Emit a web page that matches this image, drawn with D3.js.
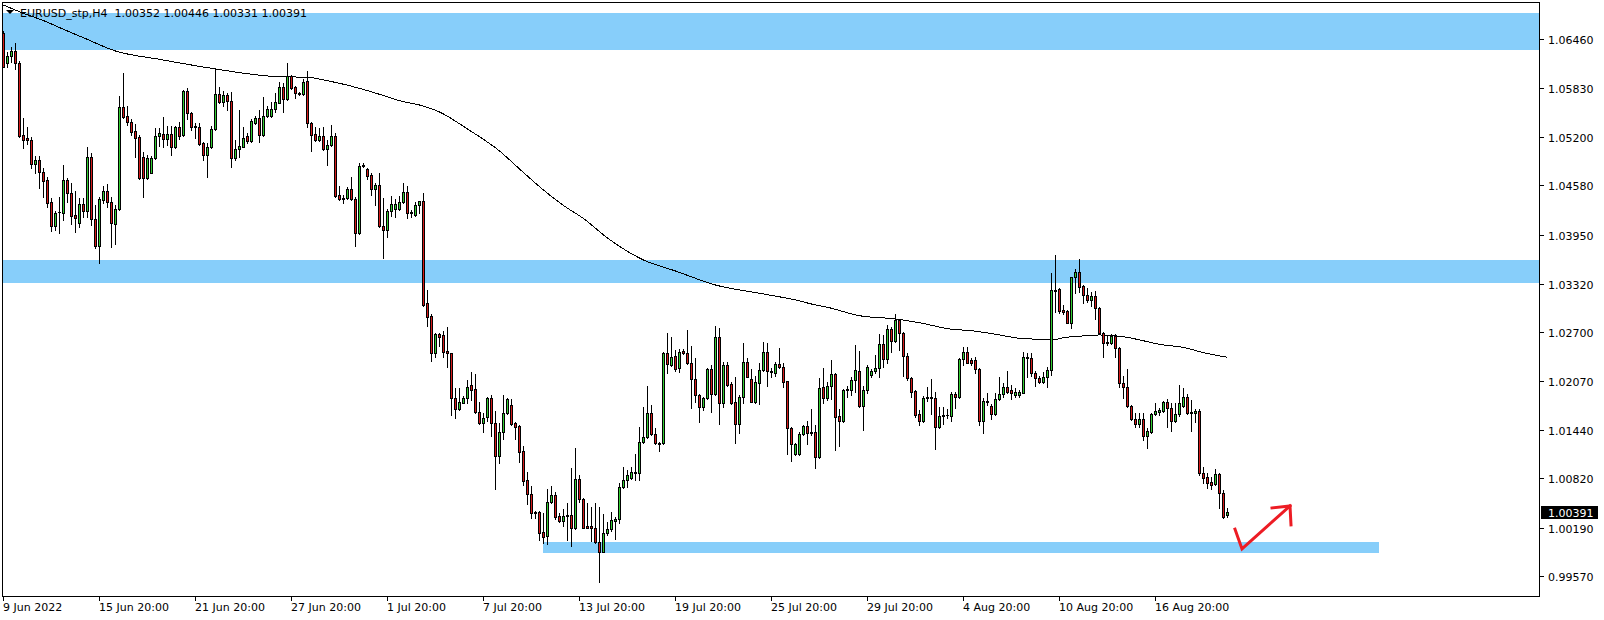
<!DOCTYPE html>
<html><head><meta charset="utf-8">
<script src="https://cdn.jsdelivr.net/npm/d3@7"></script>
<style>html,body{margin:0;padding:0;background:#fff;overflow:hidden}svg{display:block}</style>
</head><body>
<svg id="c" width="1604" height="620"></svg>
<script>
const symbolTitle = "EURUSD_stp,H4  1.00352 1.00446 1.00331 1.00391";
const lastPrice = 1.00391;
const openP = [
1.06537,1.06152,1.06241,1.06306,1.06155,1.05228,1.05193,1.05164,1.04856,1.04907,
1.04753,1.04650,1.04368,1.04064,1.04240,1.04231,1.04650,1.04480,1.04201,1.04095,
1.04342,1.04257,1.04942,1.04146,1.03804,1.04394,1.04513,1.04372,1.04086,1.04275,
1.05591,1.05472,1.05398,1.05279,1.05198,1.04942,1.04672,1.04744,1.04929,1.05219,
1.05241,1.05173,1.05241,1.05070,1.05327,1.05228,1.05792,1.05514,1.05343,1.05327,
1.05121,1.04971,1.05070,1.05301,1.05754,1.05647,1.05741,1.05668,1.04929,1.05044,
1.05078,1.05215,1.05155,1.05386,1.05442,1.05228,1.05472,1.05472,1.05558,1.05642,
1.05840,1.05686,1.05985,1.05848,1.05763,1.05754,1.05921,1.05378,1.05237,1.05164,
1.05215,1.05044,1.05100,1.05215,1.04458,1.04416,1.04416,1.04531,1.04403,1.03967,
1.04843,1.04788,1.04715,1.04531,1.04586,1.04060,1.04009,1.04257,1.04275,1.04275,
1.04372,1.04500,1.04236,1.04201,1.04330,1.04381,1.03068,1.02905,1.02435,1.02674,
1.02662,1.02456,1.02427,1.01857,1.01708,1.01793,1.01849,1.02020,1.01965,1.01678,
1.01529,1.01613,1.01849,1.01529,1.01109,1.01413,1.01657,1.01763,1.01529,1.01494,
1.01173,1.00801,1.00618,1.00387,1.00394,1.00130,1.00087,1.00515,1.00609,1.00339,
1.00279,1.00339,1.00352,1.00181,1.00810,1.00553,1.00211,1.00211,1.00181,1.00002,
0.99881,1.00117,1.00169,1.00279,1.00297,1.00707,1.00801,1.00823,1.00895,1.00895,
1.01285,1.01349,1.01657,1.01391,1.01272,1.01272,1.02427,1.02277,1.02392,1.02234,
1.02460,1.02427,1.02299,1.02093,1.01892,1.01742,1.01849,1.02225,1.01901,1.02632,
1.01793,1.02277,1.02029,1.01806,1.01516,1.01862,1.02311,1.02093,1.01806,1.02050,
1.02213,1.02440,1.02200,1.02170,1.02290,1.02247,1.02071,1.01465,1.01131,1.01131,
1.01388,1.01494,1.01413,1.01413,1.01092,1.01998,1.01849,1.02007,1.02161,1.01622,
1.01562,1.01956,1.01956,1.02084,1.02204,1.01751,1.01956,1.02148,1.02204,1.02234,
1.02546,1.02350,1.02735,1.02589,1.02854,1.02691,1.02396,1.02106,1.01943,1.01648,
1.01562,1.01849,1.01862,1.01849,1.01485,1.01622,1.01635,1.01622,1.01905,1.01862,
1.02354,1.02440,1.02341,1.02341,1.02225,1.01562,1.01815,1.01754,1.01644,1.01840,
1.01905,1.01991,1.01956,1.01892,1.01892,1.01921,1.02375,1.02363,1.02178,1.02106,
1.02062,1.02119,1.02213,1.03239,1.03248,1.02982,1.02970,1.02819,1.03402,1.03466,
1.03290,1.03175,1.03111,1.03162,1.03004,1.02691,1.02572,1.02555,1.02653,1.02491,
1.02050,1.01991,1.01751,1.01580,1.01520,1.01580,1.01370,1.01413,1.01648,1.01678,
1.01690,1.01798,1.01721,1.01562,1.01648,1.01754,1.01870,1.01657,1.01657,1.01686,
1.00887,1.00844,1.00779,1.00746,1.00874,1.00638,1.00352];
const highP = [
1.06562,1.06293,1.06357,1.06408,1.06181,1.05446,1.05330,1.05206,1.04958,1.04958,
1.04804,1.04693,1.04419,1.04257,1.04436,1.04843,1.04680,1.04608,1.04513,1.04416,
1.04416,1.05078,1.04993,1.04330,1.04436,1.04573,1.04599,1.04436,1.04330,1.05728,
1.06027,1.05600,1.05429,1.05369,1.05228,1.05014,1.04971,1.04958,1.05314,1.05314,
1.05455,1.05343,1.05343,1.05343,1.05398,1.05805,1.05827,1.05527,1.05386,1.05386,
1.05142,1.05129,1.05343,1.06071,1.05840,1.05796,1.05763,1.05783,1.05164,1.05549,
1.05334,1.05250,1.05429,1.05472,1.05549,1.05719,1.05600,1.05655,1.05763,1.05912,
1.05891,1.06148,1.05998,1.05857,1.05783,1.05943,1.06053,1.05398,1.05334,1.05314,
1.05334,1.05164,1.05356,1.05257,1.04573,1.04458,1.04564,1.04685,1.04436,1.04872,
1.04872,1.04801,1.04736,1.04616,1.04736,1.04416,1.04275,1.04445,1.04403,1.04445,
1.04616,1.04573,1.04265,1.04372,1.04381,1.04480,1.03239,1.02931,1.02691,1.02691,
1.02717,1.02768,1.02435,1.01978,1.01978,1.01879,1.02084,1.02191,1.02161,1.01806,
1.01665,1.01862,1.01892,1.01690,1.01536,1.01892,1.01849,1.01837,1.01549,1.01507,
1.01237,1.00908,1.00724,1.00407,1.00407,1.00374,1.00682,1.00724,1.00651,1.00374,
1.00425,1.00502,1.00951,1.01208,1.00865,1.00566,1.00502,1.00459,1.00502,1.00451,
1.00365,1.00266,1.00394,1.00330,1.00767,1.00972,1.00929,1.00972,1.01135,1.01485,
1.01742,1.02007,1.01763,1.01465,1.01293,1.02447,1.02683,1.02632,1.02469,1.02478,
1.02478,1.02726,1.02520,1.02363,1.01905,1.01870,1.02234,1.02277,1.02777,1.02748,
1.02319,1.02319,1.02062,1.02119,1.01892,1.02555,1.02363,1.02222,1.02136,1.02306,
1.02568,1.02555,1.02234,1.02319,1.02491,1.02299,1.02075,1.01485,1.01272,1.01421,
1.01507,1.01562,1.01712,1.01507,1.02106,1.02234,1.02062,1.02341,1.02170,1.01708,
1.01965,1.02007,1.02127,1.02533,1.02460,1.02007,1.02277,1.02222,1.02405,1.02674,
1.02662,1.02790,1.02768,1.02931,1.02863,1.02704,1.02427,1.02127,1.01956,1.01699,
1.01879,1.01994,1.02093,1.01934,1.01738,1.01742,1.01712,1.01934,1.01934,1.02363,
1.02512,1.02512,1.02363,1.02375,1.02234,1.01849,1.01914,1.01776,1.01914,1.02127,
1.02042,1.02204,1.02020,1.01978,1.01956,1.02447,1.02434,1.02434,1.02204,1.02136,
1.02191,1.02255,1.03461,1.03688,1.03261,1.03047,1.02982,1.03410,1.03505,1.03633,
1.03303,1.03261,1.03217,1.03230,1.03017,1.02704,1.02662,1.02671,1.02671,1.02504,
1.02136,1.02222,1.01763,1.01665,1.01657,1.01657,1.01465,1.01665,1.01793,1.01721,
1.01819,1.01841,1.01793,1.01785,1.02020,1.01978,1.01905,1.01828,1.01708,1.01708,
1.00972,1.00887,1.00836,1.00938,1.00891,1.00673,1.00446];
const lowP = [
1.06100,1.06100,1.06164,1.06075,1.05206,1.05061,1.05112,1.04804,1.04744,1.04552,
1.04436,1.04304,1.03996,1.04009,1.03967,1.04137,1.04372,1.04086,1.03987,1.04051,
1.04180,1.04180,1.04073,1.03774,1.03582,1.04359,1.04308,1.03795,1.03829,1.04265,
1.05442,1.05356,1.05228,1.04942,1.04659,1.04436,1.04659,1.04736,1.04916,1.05087,
1.05070,1.05100,1.04971,1.05057,1.05173,1.05215,1.05429,1.05292,1.05185,1.05100,
1.04907,1.04693,1.05057,1.05292,1.05635,1.05600,1.05549,1.04821,1.04907,1.04942,
1.05070,1.05121,1.05142,1.05369,1.05142,1.05215,1.05463,1.05463,1.05527,1.05635,
1.05527,1.05677,1.05814,1.05699,1.05741,1.05741,1.05327,1.05026,1.05155,1.05155,
1.05035,1.04843,1.05087,1.04436,1.04394,1.04359,1.04403,1.04394,1.03804,1.03958,
1.04813,1.04659,1.04458,1.04330,1.04051,1.03646,1.03923,1.04189,1.04180,1.04265,
1.04359,1.04159,1.04180,1.04192,1.04223,1.03034,1.02781,1.02332,1.02383,1.02520,
1.02375,1.02247,1.01635,1.01593,1.01699,1.01785,1.01785,1.01828,1.01665,1.01520,
1.01421,1.01562,1.01366,1.00682,1.01023,1.01323,1.01648,1.01507,1.01323,1.01036,
1.00737,1.00493,1.00310,1.00310,1.00031,0.99997,0.99976,1.00502,1.00297,1.00266,
1.00211,1.00031,0.99958,1.00169,1.00523,1.00181,1.00181,1.00018,0.99989,0.99496,
0.99873,1.00095,1.00151,1.00040,1.00253,1.00695,1.00707,1.00810,1.00801,1.00801,
1.01272,1.01336,1.01379,1.01263,1.01177,1.01263,1.02178,1.02264,1.02204,1.02191,
1.02418,1.02290,1.01721,1.01806,1.01542,1.01699,1.01837,1.01678,1.01892,1.01516,
1.01734,1.02007,1.01776,1.01280,1.01408,1.01785,1.02119,1.01798,1.01793,1.01776,
1.02204,1.02007,1.02119,1.02136,1.02234,1.01998,1.01135,1.01049,1.01122,1.01122,
1.01379,1.01263,1.01379,1.00951,1.01080,1.01785,1.01828,1.01837,1.01186,1.01237,
1.01549,1.01870,1.01892,1.01934,1.01742,1.01443,1.01921,1.02119,1.02178,1.02119,
1.02255,1.02306,1.02447,1.02576,1.02469,1.02136,1.02084,1.01866,1.01613,1.01507,
1.01549,1.01815,1.01648,1.01199,1.01465,1.01520,1.01593,1.01562,1.01721,1.01857,
1.02277,1.02299,1.02277,1.02178,1.01507,1.01400,1.01763,1.01580,1.01635,1.01828,
1.01870,1.01914,1.01837,1.01870,1.01866,1.01914,1.02127,1.02136,1.02007,1.02050,
1.02050,1.01998,1.02148,1.02961,1.02940,1.02931,1.02812,1.02748,1.03204,1.03217,
1.03076,1.03089,1.03034,1.02863,1.02674,1.02375,1.02533,1.02546,1.02383,1.01998,
1.01849,1.01742,1.01571,1.01477,1.01477,1.01314,1.01208,1.01400,1.01635,1.01635,
1.01678,1.01477,1.01434,1.01549,1.01622,1.01742,1.01648,1.01434,1.01549,1.00865,
1.00767,1.00695,1.00682,1.00737,1.00442,1.00310,1.00331];
const closeP = [
1.06104,1.06241,1.06306,1.06152,1.05215,1.05164,1.05164,1.04856,1.04907,1.04753,
1.04641,1.04359,1.04064,1.04231,1.04245,1.04650,1.04480,1.04192,1.04167,1.04342,
1.04257,1.04942,1.04146,1.03804,1.04403,1.04513,1.04372,1.04095,1.04275,1.05591,
1.05463,1.05398,1.05270,1.05193,1.04672,1.04672,1.04929,1.04929,1.05219,1.05250,
1.05173,1.05241,1.05070,1.05327,1.05215,1.05792,1.05514,1.05334,1.05327,1.05112,
1.04971,1.05078,1.05301,1.05754,1.05655,1.05741,1.05668,1.04929,1.05044,1.05087,
1.05185,1.05155,1.05407,1.05442,1.05228,1.05472,1.05558,1.05558,1.05655,1.05840,
1.05686,1.05985,1.05827,1.05763,1.05754,1.05912,1.05378,1.05228,1.05164,1.05215,
1.05044,1.05100,1.05215,1.04445,1.04403,1.04403,1.04531,1.04403,1.03967,1.04830,
1.04830,1.04702,1.04531,1.04586,1.04060,1.04009,1.04257,1.04342,1.04342,1.04372,
1.04500,1.04223,1.04223,1.04330,1.04381,1.03047,1.02896,1.02435,1.02674,1.02640,
1.02447,1.02427,1.01857,1.01712,1.01798,1.01849,1.01998,1.01956,1.01678,1.01529,
1.01593,1.01849,1.01529,1.01109,1.01413,1.01657,1.01837,1.01520,1.01485,1.01164,
1.00792,1.00618,1.00374,1.00374,1.00125,1.00074,1.00515,1.00609,1.00330,1.00279,
1.00339,1.00352,1.00181,1.00810,1.00553,1.00189,1.00189,1.00181,1.00002,0.99881,
1.00117,1.00169,1.00288,1.00297,1.00707,1.00801,1.00865,1.00908,1.00908,1.01285,
1.01357,1.01657,1.01391,1.01272,1.01259,1.02427,1.02286,1.02383,1.02222,1.02447,
1.02427,1.02299,1.02093,1.01892,1.01742,1.01849,1.02225,1.01901,1.02632,1.01793,
1.02277,1.02020,1.01793,1.01516,1.01862,1.02311,1.02127,1.01806,1.02062,1.02213,
1.02440,1.02200,1.02183,1.02290,1.02247,1.02062,1.01465,1.01259,1.01259,1.01388,
1.01494,1.01400,1.01400,1.01092,1.01978,1.01849,1.02007,1.02161,1.01613,1.01562,
1.01956,1.01965,1.02084,1.02213,1.01751,1.01956,1.02255,1.02204,1.02234,1.02546,
1.02350,1.02735,1.02589,1.02854,1.02691,1.02396,1.02106,1.01934,1.01635,1.01562,
1.01849,1.01862,1.01849,1.01485,1.01622,1.01635,1.01639,1.01905,1.01862,1.02354,
1.02440,1.02306,1.02306,1.02225,1.01562,1.01815,1.01798,1.01644,1.01840,1.01905,
1.01991,1.01934,1.01921,1.01934,1.01934,1.02375,1.02363,1.02170,1.02106,1.02062,
1.02127,1.02213,1.03239,1.03226,1.02973,1.02961,1.02819,1.03402,1.03466,1.03281,
1.03175,1.03111,1.03162,1.03004,1.02691,1.02555,1.02555,1.02653,1.02491,1.02050,
1.01991,1.01751,1.01580,1.01520,1.01580,1.01370,1.01430,1.01648,1.01690,1.01699,
1.01798,1.01721,1.01562,1.01648,1.01785,1.01870,1.01657,1.01678,1.01686,1.00887,
1.00823,1.00767,1.00737,1.00874,1.00638,1.00330,1.00391];

// moving average read at sampled bars
const maIdx = [0,5,10,15,20,28,39,52,68,76,82,89,94,99,104,109,116,124,129,135,140,145,151,160,168,178,190,198,203,206,214,223,229,237,242,249,254,259,262,265,271,274,280,283,289,296,299,306];
const maVal = [1.06896,1.06789,1.06696,1.06584,1.06476,1.06306,1.06199,1.06084,1.05978,1.05968,1.05914,1.05827,1.05750,1.05668,1.05613,1.05523,1.05305,1.05023,1.04792,1.04522,1.04323,1.04156,1.03906,1.03624,1.03483,1.03303,1.03188,1.03111,1.03047,1.03017,1.02909,1.02867,1.02819,1.02735,1.02717,1.02662,1.02619,1.02606,1.02597,1.02627,1.02653,1.02662,1.02640,1.02610,1.02542,1.02491,1.02447,1.02375];

const priceTicks = ["1.06460","1.05830","1.05200","1.04580","1.03950","1.03320","1.02700","1.02070","1.01440","1.00820","1.00190","0.99570"];
const dateLabels = ["9 Jun 2022","15 Jun 20:00","21 Jun 20:00","27 Jun 20:00","1 Jul 20:00","7 Jul 20:00","13 Jul 20:00","19 Jul 20:00","25 Jul 20:00","29 Jul 20:00","4 Aug 20:00","10 Aug 20:00","16 Aug 20:00"];
const dateBars = [0,24,48,72,96,120,144,168,192,216,240,264,288];

// zones: bar range and price range
const zoneFrom = [-2, -2, 135];
const zoneTo = [390, 390, 344];
const zoneTop = [1.06793, 1.03624, 1.00006];
const zoneBottom = [1.06318, 1.03329, 0.99868];

// hand drawn arrow (bar index, price)
const arrowLine = [[308,1.00169],[309.75,0.99916],[321.75,1.00468]];
const arrowHead = [[317.25,1.00442],[321.75,1.00468],[322,1.00224]];

const svg = d3.select('#c');
const x = d3.scaleLinear().domain([0,384]).range([3,1539]);
const y = d3.scaleLinear().domain([0.99570,1.06460]).range([575.9,39.0]);
const FONT = "'DejaVu Sans', Verdana, sans-serif";
const BULL = "#32cd32", BEAR = "#d41a1a";

svg.append('rect').attr('width',1604).attr('height',620).attr('fill','#fff');
svg.append('defs').append('clipPath').attr('id','pc')
  .append('rect').attr('x',3).attr('y',3).attr('width',1536).attr('height',593);

const plot = svg.append('g').attr('clip-path','url(#pc)');

// zones
plot.append('g').selectAll('rect').data(zoneFrom.map((d,i)=>i)).join('rect')
  .attr('x', i => Math.round(x(zoneFrom[i])))
  .attr('width', i => Math.round(x(zoneTo[i])) - Math.round(x(zoneFrom[i])))
  .attr('y', i => Math.round(y(zoneTop[i])))
  .attr('height', i => Math.round(y(zoneBottom[i])) - Math.round(y(zoneTop[i])))
  .attr('fill','#87cefa')
  .attr('shape-rendering','crispEdges');

// moving average
const maData = maIdx.map((d,i)=>[d,maVal[i]]);
plot.append('path').datum(maData)
  .attr('d', d3.line().x(d=>x(d[0])+0.5).y(d=>y(d[1])).curve(d3.curveMonotoneX))
  .attr('fill','none').attr('stroke','#000').attr('stroke-width',1)
  .attr('shape-rendering','crispEdges');

// candles
const cg = plot.append('g').attr('shape-rendering','crispEdges');
openP.forEach((o,i)=>{
  const c = Math.round(x(i));
  const yo = Math.round(y(o)), yc = Math.round(y(closeP[i]));
  const yh = Math.round(y(highP[i])), yl = Math.round(y(lowP[i]));
  const top = Math.min(yo,yc), bot = Math.max(yo,yc);
  const wt = Math.min(yh, top), wb = Math.max(yl, bot);
  cg.append('rect').attr('x',c).attr('y',wt).attr('width',1).attr('height',wb-wt+1).attr('fill','#000');
  if (bot - top < 2) {
    cg.append('rect').attr('x',c-1).attr('y',top).attr('width',3).attr('height',bot-top+1).attr('fill','#000');
  } else {
    cg.append('rect').attr('x',c-1).attr('y',top).attr('width',3).attr('height',bot-top+1).attr('fill','#000');
    cg.append('rect').attr('x',c).attr('y',top+1).attr('width',1).attr('height',bot-top-1)
      .attr('fill', closeP[i] >= o ? BULL : BEAR);
  }
});

// arrow
const al = d3.line().x(d=>x(d[0])).y(d=>y(d[1]));
[arrowLine, arrowHead].forEach(pts=>{
  plot.append('path').attr('d', al(pts)).attr('fill','none')
    .attr('stroke','#ed1c24').attr('stroke-width',3).attr('stroke-linejoin','miter').attr('stroke-linecap','square');
});

// frame
svg.append('rect').attr('x',2.5).attr('y',2.5).attr('width',1537).attr('height',594)
  .attr('fill','none').attr('stroke','#000').attr('stroke-width',1).attr('shape-rendering','crispEdges');

// price axis
const pa = svg.append('g');
priceTicks.forEach(t=>{
  const ty = Math.round(y(+t)) + 0.5;
  pa.append('line').attr('x1',1540).attr('x2',1544).attr('y1',ty).attr('y2',ty)
    .attr('stroke','#000').attr('shape-rendering','crispEdges');
  pa.append('text').attr('x',1548).attr('y',ty+4).text(t)
    .attr('font-family',FONT).attr('font-size',11).attr('fill','#000');
});
// current price box
const ly = Math.round(y(lastPrice));
pa.append('rect').attr('x',1541).attr('y',ly-6).attr('width',57).attr('height',13).attr('fill','#000');
pa.append('text').attr('x',1548).attr('y',ly+4.5).text(lastPrice.toFixed(5))
  .attr('font-family',FONT).attr('font-size',11).attr('fill','#fff');

// date axis
const da = svg.append('g');
dateBars.forEach((b,i)=>{
  const c = Math.round(x(b)) + 0.5;
  da.append('line').attr('x1',c).attr('x2',c).attr('y1',597).attr('y2',601)
    .attr('stroke','#000').attr('shape-rendering','crispEdges');
  da.append('text').attr('x',c-0.5).attr('y',611).text(dateLabels[i])
    .attr('font-family',FONT).attr('font-size',11).attr('fill','#000');
});

// title
svg.append('path').attr('d','M6,10 L14,10 L10,14 Z').attr('fill','#000');
svg.append('text').attr('x',20).attr('y',16.5).text(symbolTitle)
  .attr('font-family',FONT).attr('font-size',11).attr('fill','#000').attr('xml:space','preserve')
  .style('white-space','pre');
</script>
</body></html>
